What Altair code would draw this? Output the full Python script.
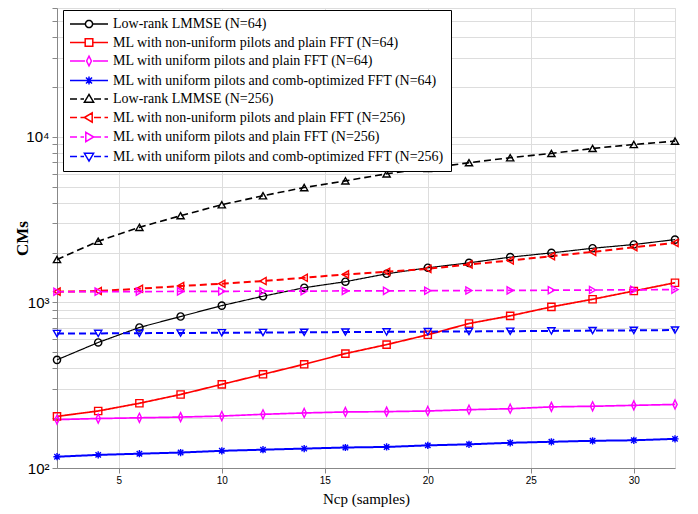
import altair as alt
import pandas as pd
import math

# ---------------- data ----------------
ncp = [2, 4, 6, 8, 10, 12, 14, 16, 18, 20, 22, 24, 26, 28, 30, 32]

series = [
    "Low-rank LMMSE (N=64)",
    "ML with non-uniform pilots and plain FFT (N=64)",
    "ML with uniform pilots and plain FFT (N=64)",
    "ML with uniform pilots and comb-optimized FFT (N=64)",
    "Low-rank LMMSE (N=256)",
    "ML with non-uniform pilots and plain FFT (N=256)",
    "ML with uniform pilots and plain FFT (N=256)",
    "ML with uniform pilots and comb-optimized FFT (N=256)",
]

lmmse_64 = [450, 573, 706, 822, 957, 1090, 1227, 1334, 1489, 1619, 1734, 1877, 1991, 2124, 2237, 2396]
ml_nonuni_64 = [205, 221, 246, 278, 320, 368, 423, 491, 556, 638, 746, 830, 940, 1045, 1172, 1315]
ml_uni_64 = [196, 199, 201, 203, 206, 211, 215, 218, 219, 221, 225, 228, 234, 236, 239, 242]
ml_comb_64 = [117, 120, 122, 124, 127, 129, 131, 133, 134, 137, 139, 142, 144, 146, 147, 150]
lmmse_256 = [1817, 2340, 2840, 3340, 3890, 4410, 4940, 5420, 5980, 6450, 6980, 7480, 7940, 8510, 8990, 9420]
ml_nonuni_256 = [1161, 1172, 1210, 1257, 1297, 1346, 1409, 1477, 1530, 1595, 1696, 1792, 1903, 2019, 2155, 2287]
ml_uni_256 = [1160, 1161, 1163, 1165, 1167, 1169, 1171, 1173, 1175, 1177, 1180, 1182, 1185, 1188, 1191, 1195]
ml_comb_256 = [649, 650, 652, 654, 656, 658, 660, 662, 664, 666, 668, 670, 673, 676, 678, 681]

values = [lmmse_64, ml_nonuni_64, ml_uni_64, ml_comb_64,
          lmmse_256, ml_nonuni_256, ml_uni_256, ml_comb_256]

rows = []
for name, vals in zip(series, values):
    for x, v in zip(ncp, vals):
        rows.append({"series": name, "ncp": x, "cms": v})
df = pd.DataFrame(rows)

# ---------------- styles ----------------
colors = ["#000000", "#ff0000", "#ff00ff", "#0000ff"] * 2
dashes = [[1, 0]] * 4 + [[7, 4]] * 4
widths = [1.2, 1.7, 1.7, 2.0, 1.6, 2.0, 1.7, 2.0]

diamond_path = "M0,-1.25L0.6,0L0,1.25L-0.6,0Z"
star_path = "M-1,0L1,0M0,-1L0,1M-0.75,-0.75L0.75,0.75M-0.75,0.75L0.75,-0.75"
shapes = ["circle", "square", diamond_path, star_path,
          "triangle-up", "triangle-left", "triangle-right", "triangle-down"]

# legend glyphs: line (solid or dashed) + marker, in symbol units (1 unit = 7px)
UNIT = 7.0
CX = 19.0


def ux(p):
    return round((p - 7.0) / UNIT, 3)


def uy(p):
    return round(p / UNIT, 3)


def poly(points):
    return "M" + "L".join(f"{ux(CX + dx)},{uy(dy)}" for dx, dy in points) + "Z"


def marker_path(kind):
    if kind == "circle":
        pts = [(3.6 * math.cos(2 * math.pi * i / 20), 3.6 * math.sin(2 * math.pi * i / 20)) for i in range(20)]
        return poly(pts)
    if kind == "square":
        return poly([(-3.8, -3.8), (3.8, -3.8), (3.8, 3.8), (-3.8, 3.8)])
    if kind == "diamond":
        return poly([(0, -4.8), (2.4, 0), (0, 4.8), (-2.4, 0)])
    if kind == "star":
        segs = [((-4, 0), (4, 0)), ((0, -4), (0, 4)), ((-3, -3), (3, 3)), ((-3, 3), (3, -3))]
        return "".join(f"M{ux(CX + a[0])},{uy(a[1])}L{ux(CX + b[0])},{uy(b[1])}" for a, b in segs)
    if kind == "up":
        return poly([(0, -4.6), (4.6, 3.2), (-4.6, 3.2)])
    if kind == "left":
        return poly([(-4.6, 0), (3.2, -4.6), (3.2, 4.6)])
    if kind == "right":
        return poly([(4.6, 0), (-3.2, -4.6), (-3.2, 4.6)])
    if kind == "down":
        return poly([(0, 4.6), (4.6, -3.2), (-4.6, -3.2)])
    return ""


def legend_glyph(kind, dashed):
    if dashed:
        segs = [(0, 7), (10.5, 14), (24, 31), (34.5, 38)]
    else:
        segs = [(0, 15), (23, 38)]
    line = "".join(f"M{ux(a)},0L{ux(b)},0" for a, b in segs)
    return line + marker_path(kind)


kinds = ["circle", "square", "diamond", "star", "up", "left", "right", "down"]
glyphs = [legend_glyph(k, i >= 4) for i, k in enumerate(kinds)]

y_ticks = [m * 10 ** e for e in (2, 3, 4) for m in range(1, 10) if m * 10 ** e <= 60000]

x_enc = alt.X("ncp:Q",
              scale=alt.Scale(domain=[2, 32], nice=False, zero=False),
              axis=alt.Axis(values=[5, 10, 15, 20, 25, 30], title="Ncp (samples)",
                            titleFont="Liberation Serif", titleFontSize=15,
                            titleFontWeight="normal", titleColor="#000",
                            titlePadding=6))
y_enc = alt.Y("cms:Q",
              scale=alt.Scale(type="log", domain=[100, 60000], nice=False),
              axis=alt.Axis(values=y_ticks,
                            labelExpr="datum.value == 100 ? '10²' : datum.value == 1000 ? '10³' : datum.value == 10000 ? '10⁴' : ''",
                            labelOverlap=False, labelFontSize=15, labelPadding=3,
                            title="CMs", titleFont="Liberation Serif", titleFontSize=17,
                            titleFontWeight="bold", titleColor="#000",
                            titleX=-35, titleY=230, titleAngle=270,
                            titleAlign="center", titleBaseline="middle"))

color_scale = alt.Scale(domain=series, range=colors)

line_layers = []
marker_layers = []
for s, c, d, w, shp in zip(series, colors, dashes, widths, shapes):
    base = alt.Chart(df).transform_filter(alt.datum.series == s)
    line_layers.append(
        base.mark_line(color=c, strokeDash=d, strokeWidth=w).encode(x=x_enc, y=y_enc)
    )
    marker_layers.append(
        base.mark_point(filled=False, size=52, strokeWidth=1.4, opacity=1, color=c, shape=shp)
        .encode(x=x_enc, y=y_enc)
    )

legend = alt.Legend(
    title=None, orient="none", legendX=6, legendY=2,
    labelFont="Liberation Serif", labelFontSize=14, labelColor="#000", labelLimit=600,
    symbolSize=196, symbolStrokeWidth=1.5, symbolOpacity=1, labelOffset=28,
    rowPadding=3.5, padding=6, strokeColor="#000", fillColor="#fff",
)

# carries the legend only: its marks are fully transparent
legend_layer = alt.Chart(df).mark_point(
    filled=False, size=196, strokeWidth=1.5, opacity=0
).encode(
    x=x_enc, y=y_enc,
    color=alt.Color("series:N", scale=color_scale, legend=legend),
    shape=alt.Shape("series:N", scale=alt.Scale(domain=series, range=glyphs), legend=legend),
)

chart = alt.layer(*line_layers, *marker_layers, legend_layer).properties(
    width=618, height=460,
    autosize=alt.AutoSizeParams(type="none"),
    padding={"left": 49, "top": 0, "right": 15, "bottom": 40},
).configure_view(
    stroke="#000", strokeWidth=1,
).configure_axis(
    grid=True, gridColor="#000", gridDash=[1, 3], gridWidth=1, gridOpacity=0.9,
    domainColor="#000", ticks=False,
    labelFont="Liberation Sans", labelFontSize=14, labelColor="#444", labelPadding=6,
).configure(background="white")

chart.save("out.html", embed_options={"renderer": "svg", "actions": False})
